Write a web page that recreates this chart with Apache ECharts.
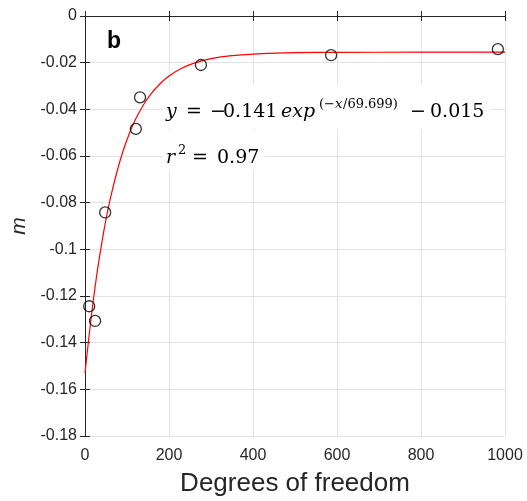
<!DOCTYPE html>
<html>
<head>
<meta charset="utf-8">
<script src="https://cdn.jsdelivr.net/npm/echarts@6/dist/echarts.min.js"></script>
<style>html,body{margin:0;padding:0;background:#fff;}#c{width:527px;height:501px;}</style>
</head>
<body>
<div id="c"></div>
<script>
// Observed points (degrees of freedom, m)
var pointsX = [10, 24, 48, 121, 131, 276, 586, 983];
var pointsY = [-0.1244, -0.1307, -0.0842, -0.0484, -0.0349, -0.0210, -0.0168, -0.0142];
// Fitted curve, values
var curveX = [0, 10, 20, 30, 40, 50, 60, 75, 90, 105, 120, 140, 160, 180, 200, 230, 260, 300, 350, 420, 500, 600, 800, 1000];
var curveY = [-0.153, -0.1365, -0.1215, -0.1085, -0.0972, -0.0872, -0.0785, -0.0675, -0.0582, -0.0507, -0.0444, -0.0378, -0.0327, -0.0288, -0.0257, -0.0224, -0.0202, -0.0183, -0.0170, -0.0161, -0.0157, -0.0156, -0.0155, -0.0155];
var xTicks = {min: 0, max: 1000, interval: 200};
var yTicks = {min: -0.18, max: 0, interval: 0.02};
var panelLabel = 'b';
var xTitle = 'Degrees of freedom';
var yTitle = 'm';

var pts = pointsX.map(function(x, i){ return [x, pointsY[i]]; });
var crv = curveX.map(function(x, i){ return [x, curveY[i]]; });

var axisCol = '#262626';
var gridCol = '#e3e3e3';
var sans = 'Liberation Sans, Arial, Helvetica, sans-serif';
var serif = 'DejaVu Serif, serif';
var fmt = function(v){ return String(Math.round(v * 1000) / 1000); };

function t(str, x, y, size, italic){
  return {type: 'text', x: x, y: y, z: 20,
    style: {text: str, fontFamily: serif, fontSize: size, fontStyle: italic ? 'italic' : 'normal',
            fill: '#000', align: 'left', verticalAlign: 'middle'}};
}

var chart = echarts.init(document.getElementById('c'), null, {renderer: 'canvas'});
chart.setOption({
  animation: false,
  backgroundColor: '#fff',
  grid: {left: 85, right: 22, top: 16, bottom: 65, containLabel: false, outerBoundsMode: 'none'},
  xAxis: [{
    type: 'value', min: xTicks.min, max: xTicks.max, interval: xTicks.interval,
    name: xTitle, nameLocation: 'middle', nameGap: 35,
    nameTextStyle: {fontFamily: sans, fontSize: 26, color: axisCol},
    axisLine: {show: true, lineStyle: {color: axisCol, width: 1}},
    axisTick: {show: true, inside: true, length: 5, lineStyle: {color: axisCol}},
    axisLabel: {fontFamily: sans, fontSize: 16, color: axisCol, margin: 12, formatter: fmt},
    splitLine: {show: true, lineStyle: {color: gridCol, width: 1}}
  }, {
    type: 'value', position: 'top', min: xTicks.min, max: xTicks.max, interval: xTicks.interval,
    axisLine: {show: true, lineStyle: {color: axisCol, width: 1}},
    axisTick: {show: true, inside: true, length: 5, lineStyle: {color: axisCol}},
    axisLabel: {show: false}, splitLine: {show: false}
  }],
  yAxis: [{
    type: 'value', min: yTicks.min, max: yTicks.max, interval: yTicks.interval,
    name: yTitle, nameLocation: 'middle', nameGap: 55,
    nameTextStyle: {fontFamily: sans, fontSize: 21, fontStyle: 'italic', color: axisCol},
    axisLine: {show: true, lineStyle: {color: axisCol, width: 1}},
    axisTick: {show: true, inside: true, length: 5, lineStyle: {color: axisCol}},
    axisLabel: {fontFamily: sans, fontSize: 16, color: axisCol, margin: 8, formatter: fmt},
    splitLine: {show: true, lineStyle: {color: gridCol, width: 1}}
  }, {
    type: 'value', position: 'right', min: yTicks.min, max: yTicks.max, interval: yTicks.interval,
    axisLine: {show: true, lineStyle: {color: axisCol, width: 1}},
    axisTick: {show: true, inside: true, length: 5, lineStyle: {color: axisCol}},
    axisLabel: {show: false}, splitLine: {show: false}
  }],
  series: [{
    type: 'line', data: crv, smooth: 0.3, showSymbol: false,
    lineStyle: {color: '#ff0000', width: 1.2}, z: 2
  }, {
    type: 'scatter', data: pts, symbol: 'circle', symbolSize: 11,
    itemStyle: {color: 'rgba(0,0,0,0)', borderColor: '#000', borderWidth: 1.3}, z: 3
  }],
  graphic: [
    {type: 'text', left: 107, top: 30, z: 20,
     style: {text: panelLabel, fontFamily: sans, fontWeight: 'bold', fontSize: 23, fill: '#000'}},
    {type: 'rect', shape: {x: 163, y: 84, width: 327, height: 45}, style: {fill: '#fff'}, z: 15},
    {type: 'rect', shape: {x: 163, y: 131, width: 102, height: 39}, style: {fill: '#fff'}, z: 15},
    t('y', 166, 112, 19, true),
    t('=', 186, 112, 19, false),
    t('−', 210, 112, 19, false),
    t('0.141', 223, 112, 19, false),
    t('exp', 281, 112, 19, true),
    t('(−', 319, 104.5, 13, false),
    t('x', 335, 104.5, 13, true),
    t('/69.699)', 343, 104.5, 13, false),
    t('−', 410, 112, 19, false),
    t('0.015', 430, 112, 19, false),
    t('r', 166, 158, 19, true),
    t('2', 178, 150.5, 13, false),
    t('=', 192, 158, 19, false),
    t('0.97', 217, 158, 19, false)
  ]
});
</script>
</body>
</html>
